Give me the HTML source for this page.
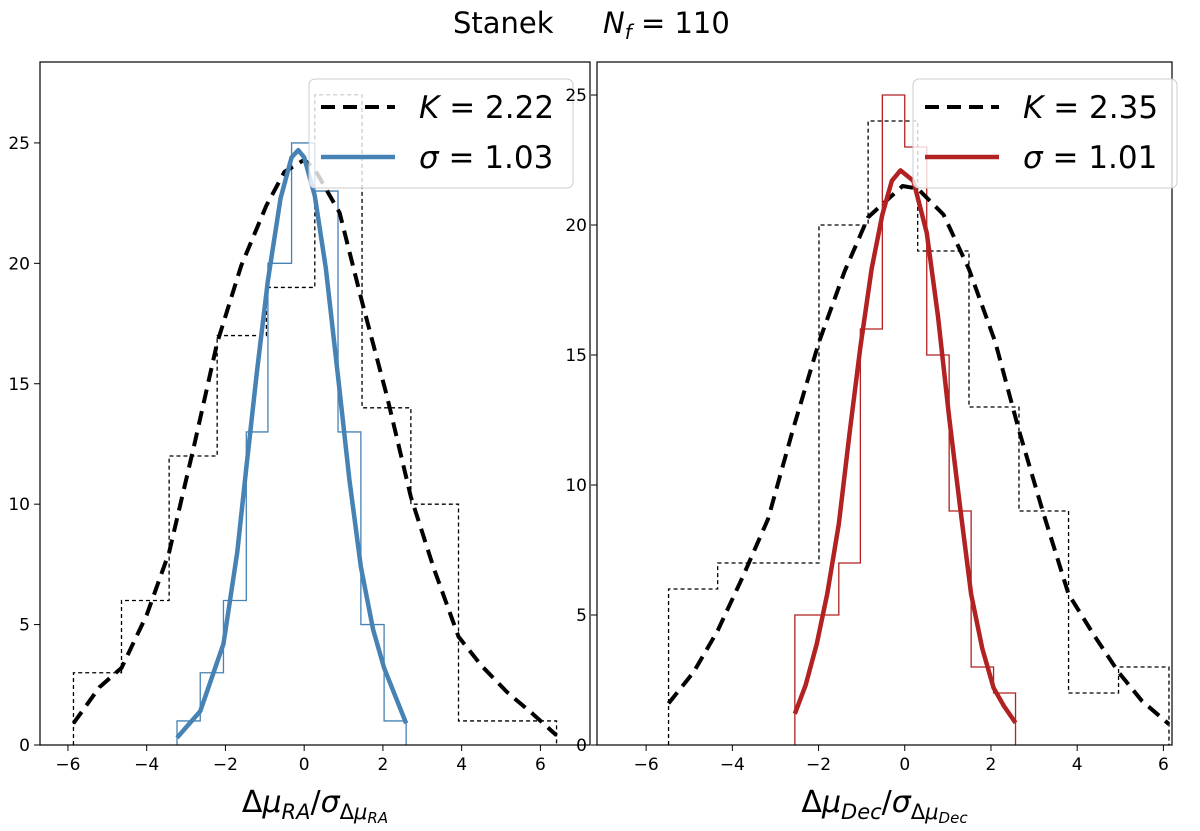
<!DOCTYPE html>
<html><head><meta charset="utf-8"><style>
body{margin:0;background:#fff;}
svg text{font-family:"DejaVu Sans","Liberation Sans",sans-serif;}
</style></head><body>
<svg id="c" width="1200" height="826" xmlns="http://www.w3.org/2000/svg">
<text y="33" font-size="29"><tspan x="453">Stanek</tspan><tspan x="603" font-style="italic">N</tspan><tspan font-style="italic" font-size="20" dy="6">f</tspan><tspan dy="-6"> = 110</tspan></text>
</svg>
<script>
// Left panel data
const leftBlackEdges=[-5.86,-4.64,-3.43,-2.21,-0.96,0.27,1.47,2.71,3.92,5.16,6.41];
const leftBlackCounts=[3,6,12,17,19,27,14,10,1,1];
const leftBlueEdges=[-3.23,-2.64,-2.05,-1.47,-0.92,-0.32,0.27,0.86,1.44,2.03,2.59];
const leftBlueCounts=[1,3,6,13,20,25,23,13,5,1];
const leftKx=[-5.86,-5.2,-4.64,-4.0,-3.43,-2.8,-2.21,-1.6,-0.96,-0.5,0.0,0.27,0.9,1.47,2.1,2.71,3.3,3.92,4.5,5.15,5.8,6.41];
const leftKy=[0.9,2.4,3.2,5.4,8.0,12.4,16.7,19.9,22.4,23.8,24.3,23.9,22.1,18.4,14.5,10.3,7.3,4.5,3.3,2.2,1.3,0.4];
const leftSx=[-3.23,-2.64,-2.05,-1.7,-1.47,-1.2,-0.92,-0.6,-0.32,-0.15,0,0.27,0.55,0.86,1.15,1.44,1.75,2.03,2.59];
const leftSy=[0.3,1.4,4.2,8,11.5,15.5,19.3,22.7,24.4,24.7,24.4,22.8,19.8,15.3,11,7.4,4.8,3.2,0.9];
// Right panel data
const rightBlackEdges=[-5.48,-4.34,-3.17,-1.99,-0.85,0.30,1.49,2.65,3.80,4.96,6.13];
const rightBlackCounts=[6,7,7,20,24,19,13,9,2,3];
const rightRedEdges=[-2.55,-2.04,-1.53,-1.03,-0.52,0,0.51,1.03,1.54,2.06,2.57];
const rightRedCounts=[5,5,7,16,25,23,15,9,3,2];
const rightKx=[-5.48,-4.9,-4.34,-3.75,-3.17,-2.6,-1.99,-1.4,-0.85,-0.05,0.3,0.9,1.49,2.1,2.65,3.2,3.8,4.4,4.96,5.5,6.13];
const rightKy=[1.6,2.8,4.4,6.5,8.7,12.1,15.5,18.2,20.3,21.5,21.4,20.4,18.3,15.5,12.1,9.0,5.8,4.2,2.8,1.7,0.8];
const rightSx=[-2.55,-2.3,-2.04,-1.8,-1.53,-1.28,-1.03,-0.77,-0.52,-0.3,-0.1,0.2,0.51,0.77,1.03,1.28,1.54,1.8,2.06,2.3,2.57];
const rightSy=[1.2,2.3,3.9,5.8,8.5,12,15.3,18.3,20.4,21.7,22.1,21.7,19.7,16.5,12.6,9.2,5.8,3.7,2.2,1.5,0.85];
const xTicks=[-6,-4,-2,0,2,4,6];
const yTicks=[0,5,10,15,20,25];

const svg=document.getElementById('c');
const NS='http://www.w3.org/2000/svg';
function mk(tag,attrs,parent){const e=document.createElementNS(NS,tag);for(const k in attrs)e.setAttribute(k,attrs[k]);(parent||svg).appendChild(e);return e;}

function panel(p){
  const g=mk('g',{});
  
  
  const X=v=>p.x0+(v-p.xmin)/(p.xmax-p.xmin)*(p.x1-p.x0);
  const Y=v=>p.y1-(v-p.ymin)/(p.ymax-p.ymin)*(p.y1-p.y0);
  function hist(edges,counts,color,dash,w,name){
    let d='M'+X(edges[0])+','+Y(0);
    for(let i=0;i<counts.length;i++){d+=' L'+X(edges[i])+','+Y(counts[i])+' L'+X(edges[i+1])+','+Y(counts[i]);}
    d+=' L'+X(edges[edges.length-1])+','+Y(0);
    const e=mk('path',{d:d,fill:'none',stroke:color,'stroke-width':w,'stroke-dasharray':dash},g);
    
    
  }
  function line(xs,ys,color,dash,w,name){
    const pts=xs.map((x,i)=>X(x)+','+Y(ys[i])).join(' ');
    const e=mk('polyline',{points:pts,fill:'none',stroke:color,'stroke-width':w,'stroke-dasharray':dash,'stroke-linejoin':'round'},g);
    
    
  }
  hist(p.bE,p.bC,'#000','4,3',1.3,'wide-histogram');
  hist(p.cE,p.cC,p.col,'none',1.3,'narrow-histogram');
  line(p.kx,p.ky,'#000','14,8',4,'kurtosis-fit-curve');
  line(p.sx,p.sy,p.col,'none',4.5,'gaussian-fit-curve');
  const fr=mk('rect',{x:p.x0,y:p.y0,width:p.x1-p.x0,height:p.y1-p.y0,fill:'none',stroke:'#000','stroke-width':1.2},g);
  
  
  xTicks.forEach(t=>{
    const tk=mk('line',{x1:X(t),x2:X(t),y1:p.y1,y2:p.y1+6,stroke:'#000'},g);
    
    
    const tl=mk('text',{x:X(t),y:p.y1+25,'text-anchor':'middle','font-size':17},g);
    tl.textContent=(t<0?'\u2212'+(-t):t);
    
    
  });
  yTicks.forEach(t=>{
    const tk=mk('line',{x1:p.x0-6,x2:p.x0,y1:Y(t),y2:Y(t),stroke:'#000'},g);
    
    
    const tl=mk('text',{x:p.x0-10,y:Y(t)+6,'text-anchor':'end','font-size':17},g);
    tl.textContent=t;
    
    
  });
  const xl=mk('text',{x:(p.x0+p.x1)/2,y:812,'text-anchor':'middle','font-size':30},g);
  xl.innerHTML='\u0394<tspan font-style="italic">\u03bc</tspan><tspan font-style="italic" font-size="21" dy="7">'+p.lab+'</tspan><tspan dy="-7">/</tspan><tspan font-style="italic">\u03c3</tspan><tspan font-size="21" dy="7">\u0394<tspan font-style="italic">\u03bc</tspan></tspan><tspan font-style="italic" font-size="15" dy="4">'+p.lab+'</tspan>';
  
  
  // legend
  const lg=mk('g',{},g);
  
  
  mk('rect',{x:p.lx,y:79,width:264,height:109,rx:6,fill:'rgba(255,255,255,0.8)',stroke:'#ccc','stroke-width':1},lg);
  mk('line',{x1:p.lx+12,x2:p.lx+86,y1:107,y2:107,stroke:'#000','stroke-width':4,'stroke-dasharray':'14,8'},lg);
  mk('line',{x1:p.lx+12,x2:p.lx+86,y1:157,y2:157,stroke:p.col,'stroke-width':4.5},lg);
  const t1=mk('text',{x:p.lx+110,y:118,'font-size':31},lg);
  t1.innerHTML='<tspan font-style="italic">K</tspan> = '+p.k;
  
  
  const t2=mk('text',{x:p.lx+110,y:168,'font-size':31},lg);
  t2.innerHTML='<tspan font-style="italic">\u03c3</tspan> = '+p.s;
  
  
}
panel({name:'ra-panel',x0:40,x1:590,y0:62,y1:745,xmin:-6.71,xmax:7.26,ymin:0,ymax:28.36,
  bE:leftBlackEdges,bC:leftBlackCounts,cE:leftBlueEdges,cC:leftBlueCounts,kx:leftKx,ky:leftKy,sx:leftSx,sy:leftSy,
  col:'#4682b4',lab:'RA',lx:309,k:'2.22',s:'1.03'});
panel({name:'dec-panel',x0:597,x1:1172,y0:62,y1:745,xmin:-7.14,xmax:6.2,ymin:0,ymax:26.27,
  bE:rightBlackEdges,bC:rightBlackCounts,cE:rightRedEdges,cC:rightRedCounts,kx:rightKx,ky:rightKy,sx:rightSx,sy:rightSy,
  col:'#b22222',lab:'Dec',lx:913,k:'2.35',s:'1.01'});
</script>
</body></html>
